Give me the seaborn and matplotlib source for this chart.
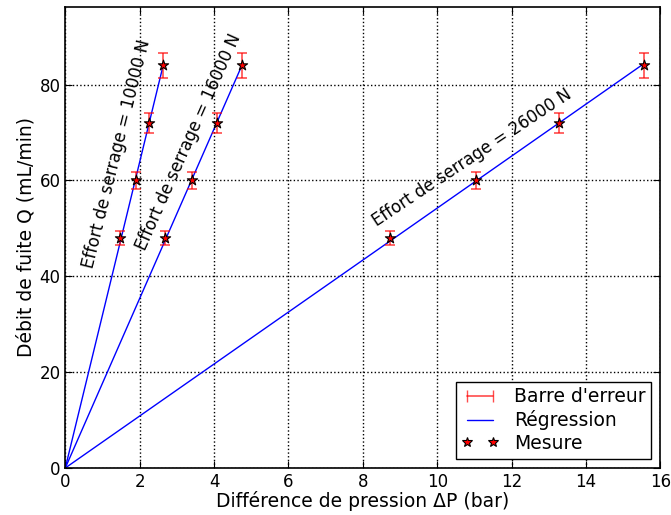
import numpy as np
import pandas as pd
import seaborn as sns
import matplotlib
matplotlib.use('Agg')
import matplotlib.pyplot as plt
from matplotlib.lines import Line2D

# mesures : debit de fuite (mL/min) vs difference de pression (bar)
debit = [48, 60, 72, 84]
dp_10000 = [1.48, 1.89, 2.25, 2.64]
dp_16000 = [2.68, 3.40, 4.08, 4.75]
dp_26000 = [8.72, 11.05, 13.28, 15.56]
efforts = ['10000', '16000', '26000']
err_rel = 0.03

df = pd.DataFrame({
    'dp': dp_10000 + dp_16000 + dp_26000,
    'Q': debit * 3,
    'effort': [e for e in efforts for _ in debit],
})
df['err'] = df['Q'] * err_rel

# regression lineaire passant par l'origine
reg = []
for eff, grp in df.groupby('effort'):
    pente = (grp.dp * grp.Q).sum() / (grp.dp ** 2).sum()
    xmax = grp.dp.max()
    reg.append(pd.DataFrame({'dp': [0, xmax], 'Q': [0, pente * xmax], 'effort': eff}))
reg = pd.concat(reg)

sns.set_style('ticks')
plt.rcParams['font.family'] = ['DejaVu Sans']
for k in ['text.color', 'axes.labelcolor', 'xtick.color', 'ytick.color']:
    plt.rcParams[k] = 'black'

fig = plt.figure(figsize=(6.71, 5.15), dpi=100)
ax = fig.add_axes([0.0973, 0.0913, 0.887, 0.8951])

sns.lineplot(data=reg, x='dp', y='Q', units='effort', estimator=None,
             color='blue', lw=1, ax=ax, legend=False)
ax.errorbar(df.dp, df.Q, yerr=df.err, fmt='none', ecolor='red', alpha=0.7,
            capsize=3.5, elinewidth=1.2, capthick=1.2)
sns.scatterplot(data=df, x='dp', y='Q', marker='*', s=60, color='red',
                edgecolor='black', linewidth=0.8, ax=ax, legend=False, zorder=5)

txt = dict(fontsize=12, ha='center', va='center', rotation_mode='anchor')
ax.text(1.37, 65.6, 'Effort de serrage = 10000 N', rotation=76, **txt)
ax.text(3.32, 68.0, 'Effort de serrage = 16000 N', rotation=66, **txt)
ax.text(10.93, 64.8, 'Effort de serrage = 26000 N', rotation=33.5, **txt)

ax.set_xlim(0, 16)
ax.set_ylim(0, 96.2)
ax.set_xticks(np.arange(0, 17, 2))
ax.set_yticks(np.arange(0, 81, 20))
ax.grid(True, color='black', linestyle=':', linewidth=1)
ax.tick_params(direction='in', top=True, right=True, labelsize=12, length=5)
for s in ax.spines.values():
    s.set_linewidth(1.2)
    s.set_color('black')
ax.set_xlabel('Différence de pression ΔP (bar)', fontsize=13.5, labelpad=0)
ax.set_ylabel('Débit de fuite Q (mL/min)', fontsize=13.5, labelpad=3)

handles = [
    Line2D([], [], color='red', alpha=0.7, marker='|', markersize=8, lw=1.2),
    Line2D([], [], color='blue', lw=1),
    Line2D([], [], color='red', marker='*', markersize=7, markeredgecolor='black',
           markeredgewidth=0.8, linestyle='none'),
]
leg = ax.legend(handles, ["Barre d'erreur", 'Régression', 'Mesure'], loc='lower right',
                numpoints=2, fontsize=13.5, fancybox=False, framealpha=1,
                edgecolor='black', borderaxespad=0.5, handlelength=2.0,
                labelspacing=0.2, borderpad=0.3)
leg.get_frame().set_linewidth(1)

fig.savefig('out.png', dpi=100)
